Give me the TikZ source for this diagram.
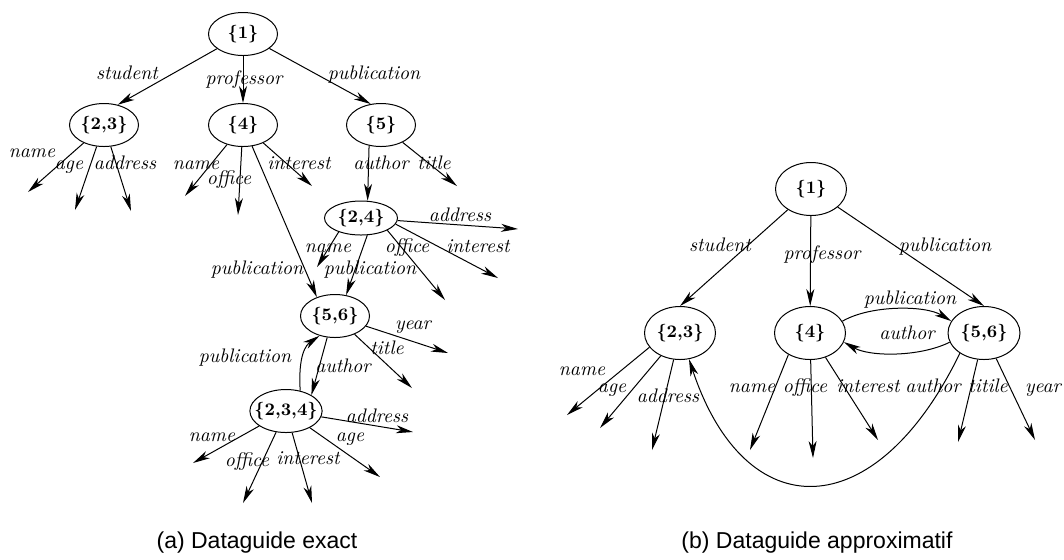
\documentclass[tikz,border=0pt]{standalone}
\usepackage{fontspec}
\newfontfamily\capfont{Liberation Sans}
\usetikzlibrary{shapes,arrows.meta,positioning}

\begin{document}
\begin{tikzpicture}[x=0.5pt,y=-0.5pt,
    setnode/.style={ellipse, draw, line width=0.5pt, inner sep=-3pt, minimum width=34.5pt, minimum height=21.5pt, font=\fontsize{8.8}{10}\selectfont\bfseries},
    bignode/.style={setnode, minimum width=35.5pt, minimum height=26.5pt},
    lbl/.style={font=\fontsize{9.8}{11}\selectfont\itshape, inner sep=0pt, text height=6.5pt, text depth=2pt},
    arrow/.style={-{Stealth[length=8.5pt,width=4pt,inset=2.5pt]}, line width=0.5pt},
    caption/.style={font=\capfont\fontsize{11.5}{13}\selectfont}]

\useasboundingbox (0,0) rectangle (1064,559);

% (a) exact dataguide
\node[setnode] (a1) at (243,34) {\{1\}};
\node[setnode] (a23) at (104,125) {\{2,3\}};
\node[setnode] (a4) at (243,125) {\{4\}};
\node[setnode] (a5) at (381,125) {\{5\}};
\node[setnode, minimum width=36.5pt, minimum height=17pt] (a24) at (361,218) {\{2,4\}};
\node[setnode] (a56) at (335,316) {\{5,6\}};
\node[setnode, minimum width=36pt] (a234) at (286,411) {\{2,3,4\}};

\coordinate (a23n) at (28,192);
\coordinate (a23g) at (75,210);
\coordinate (a23d) at (131,211);
\coordinate (a4n) at (185,196);
\coordinate (a4o) at (238,215);
\coordinate (a4i) at (312,186);
\coordinate (a5t) at (457,186);
\coordinate (a24d) at (518,229);
\coordinate (a24i) at (498,278);
\coordinate (a24o) at (445,300);
\coordinate (a24n) at (317,267);
\coordinate (a56y) at (448,353);
\coordinate (a56t) at (412,388);
\coordinate (a234d) at (413,432);
\coordinate (a234g) at (380,477);
\coordinate (a234i) at (312,503);
\coordinate (a234o) at (243,503);
\coordinate (a234n) at (193,463);

\draw[arrow] (a1) -- (a23.56);
\draw[arrow] (a1) -- (a4);
\draw[arrow] (a1) -- (a5.116);
\draw[arrow] (a23) -- (a23n);
\draw[arrow] (a23) -- (a23g);
\draw[arrow] (a23) -- (a23d);
\draw[arrow] (a4) -- (a4n);
\draw[arrow] (a4) -- (a4o);
\draw[arrow] (a4) -- (a4i);
\draw[arrow] (a4) -- (a56.134);
\draw[arrow] (a5.240) -- (a24.69);
\draw[arrow] (a5) -- (a5t);
\draw[arrow] (a24) -- (a24d);
\draw[arrow] (a24.-10) -- (a24i);
\draw[arrow] (a24.-25) -- (a24o);
\draw[arrow] (a24.212) -- (a24n);
\draw[arrow] (a24.-70) -- (a56.62);
\draw[arrow] (a56) -- (a56y);
\draw[arrow] (a56) -- (a56t);
\draw[arrow] (a56.250) -- (a234.32);
\draw[arrow] (a234.55) .. controls (298,355) and (306,345) .. (a56.232);
\draw[arrow] (a234) -- (a234d);
\draw[arrow] (a234) -- (a234g);
\draw[arrow] (a234) -- (a234i);
\draw[arrow] (a234) -- (a234o);
\draw[arrow] (a234) -- (a234n);

% Labels (a)
\node[lbl] (la1) at (127,75) {student};
\node[lbl] (la2) at (244,80) {professor};
\node[lbl] (la3) at (374,75) {publication};
\node[lbl] (la4) at (32,153) {name};
\node[lbl] (la5) at (69,165) {age};
\node[lbl] (la6) at (125,165) {address};
\node[lbl] (la7) at (196,165) {name};
\node[lbl] (la8) at (229,180) {office};
\node[lbl] (la9) at (299,165) {interest};
\node[lbl] (la10) at (381,165) {author};
\node[lbl] (la11) at (434,165) {title};
\node[lbl] (la12) at (460,217) {address};
\node[lbl] (la13) at (328,248) {name};
\node[lbl] (la14) at (407,248) {office};
\node[lbl] (la15) at (478,248) {interest};
\node[lbl] (la16) at (257,270) {publication};
\node[lbl] (la17) at (370,270) {publication};
\node[lbl] (la18) at (413,325) {year};
\node[lbl] (la19) at (387,350) {title};
\node[lbl] (la20) at (343,368) {author};
\node[lbl] (la21) at (245,358) {publication};
\node[lbl] (la22) at (377,418) {address};
\node[lbl] (la23) at (212,437) {name};
\node[lbl] (la24) at (350,437) {age};
\node[lbl] (la25) at (247,462) {office};
\node[lbl] (la26) at (308,460) {interest};

% (b) approximate dataguide
\node[bignode] (b1) at (811,189) {\{1\}};
\node[bignode] (b23) at (680,333) {\{2,3\}};
\node[bignode] (b4) at (810,333) {\{4\}};
\node[bignode, minimum width=36pt] (b56) at (984,333) {\{5,6\}};

\coordinate (b23n) at (567,415);
\coordinate (b23g) at (600,428);
\coordinate (b23d) at (652,450);
\coordinate (b4n) at (750,450);
\coordinate (b4o) at (813,458);
\coordinate (b4i) at (878,440);
\coordinate (b56t) at (958,442);
\coordinate (b56y) at (1035,440);

\draw[arrow] (b1) -- (b23.north);
\draw[arrow] (b1) -- (b4);
\draw[arrow] (b1) -- (b56.north);
\draw[arrow] (b4.20) .. controls (870,305) and (925,305) .. (b56.160);
\draw[arrow] (b56.195) .. controls (920,357) and (870,357) .. (b4.-15);
\draw[arrow] (b23.205) -- (b23n);
\draw[arrow] (b23) -- (b23g);
\draw[arrow] (b23) -- (b23d);
\draw[arrow] (b4.225) -- (b4n);
\draw[arrow] (b4) -- (b4o);
\draw[arrow] (b4) -- (b4i);
\draw[arrow] (b56.220) .. controls (875,528) and (745,528) .. (b23.-71);
\draw[arrow] (b56) -- (b56t);
\draw[arrow] (b56) -- (b56y);

% Labels (b)
\node[lbl] (lb1) at (720,247) {student};
\node[lbl] (lb2) at (822,255) {professor};
\node[lbl] (lb3) at (945,247) {publication};
\node[lbl] (lb4) at (910,300) {publication};
\node[lbl] (lb5) at (907,335) {author};
\node[lbl] (lb6) at (582,371) {name};
\node[lbl] (lb7) at (612,388) {age};
\node[lbl] (lb8) at (668,398) {address};
\node[lbl] (lb9) at (752,388) {name};
\node[lbl] (lb10) at (805,388) {office};
\node[lbl] (lb11) at (868,388) {interest};
\node[lbl] (lb12) at (933,388) {author};
\node[lbl] (lb13) at (988,388) {titile};
\node[lbl] (lb14) at (1043,388) {year};

% Captions
\node[caption] (capa) at (257,543) {(a) Dataguide exact};
\node[caption] (capb) at (817,543) {(b) Dataguide approximatif};
\end{tikzpicture}
\end{document}
